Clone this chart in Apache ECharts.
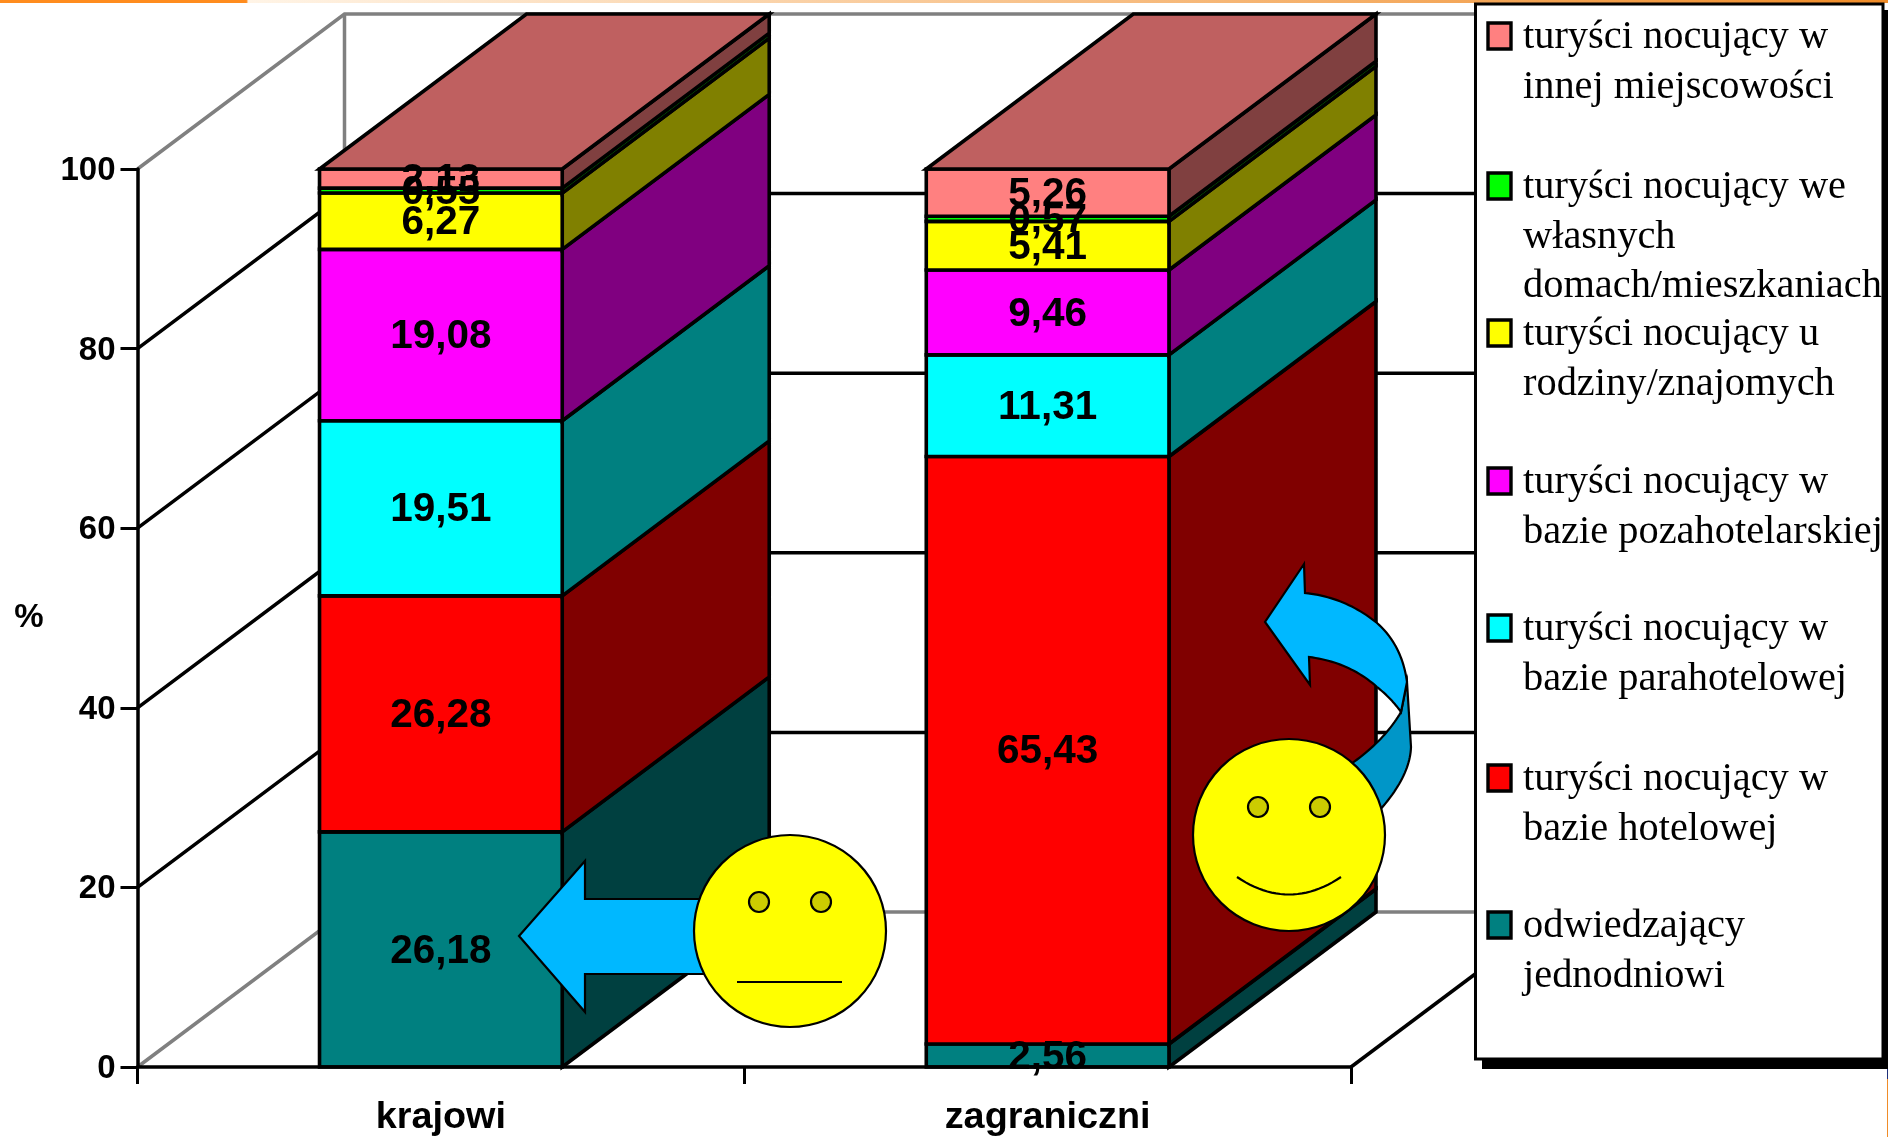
<!DOCTYPE html>
<html><head><meta charset="utf-8">
<style>html,body{margin:0;padding:0;background:#fff}#c{width:1888px;height:1137px}</style>
<script src="https://cdn.jsdelivr.net/npm/echarts@6/dist/echarts.min.js"></script>
</head><body><div id="c"></div>
<script>
const categories = ['krajowi', 'zagraniczni'];
const gridValues = [0, 20, 40, 60, 80, 100];
const odwiedzajacy = [26.18, 2.56];
const hotelowa = [26.28, 65.43];
const parahotelowa = [19.51, 11.31];
const pozahotelarska = [19.08, 9.46];
const rodzina = [6.27, 5.41];
const wlasne = [0.55, 0.57];
const innaMiejscowosc = [2.13, 5.26];
const layers = [odwiedzajacy, hotelowa, parahotelowa, pozahotelarska, rodzina, wlasne, innaMiejscowosc];
const frontColors = ['#008080', '#FF0000', '#00FFFF', '#FF00FF', '#FFFF00', '#00FF00', '#FF8080'];
const sideColors = ['#004040', '#800000', '#008080', '#800080', '#808000', '#008000', '#804040'];
const topColor = '#BF6060';
const legendLines = [
  ['turyści nocujący w', 'innej miejscowości'],
  ['turyści nocujący we', 'własnych', 'domach/mieszkaniach'],
  ['turyści nocujący u', 'rodziny/znajomych'],
  ['turyści nocujący w', 'bazie pozahotelarskiej'],
  ['turyści nocujący w', 'bazie parahotelowej'],
  ['turyści nocujący w', 'bazie hotelowej'],
  ['odwiedzający', 'jednodniowi']
];
const legendColors = ['#FF8080', '#00FF00', '#FFFF00', '#FF00FF', '#00FFFF', '#FF0000', '#008080'];
const legendBaselines = [48, 198, 345, 493, 640, 790, 937];

const DX = 207, DY = 155, BAR = 0.4, STROKE = 3.6;
const fmt = v => v.toFixed(2).replace('.', ',');

function stackData(li) {
  return categories.map((c, i) => {
    let base = 0;
    for (let k = 0; k < li; k++) base += layers[k][i];
    return [i, base, base + layers[li][i], layers[li][i]];
  });
}
function barGeom(api) {
  const bw = api.size([1, 0])[0] * BAR;
  const b = api.coord([api.value(0), api.value(1)]);
  const t = api.coord([api.value(0), api.value(2)]);
  return { l: b[0] - bw / 2, r: b[0] + bw / 2, by: b[1], ty: t[1], cx: b[0] };
}
const edge = { stroke: '#000', lineWidth: STROKE, lineJoin: 'miter' };
const layerSeries = layers.map((vals, li) => ({
  type: 'custom', name: legendLines[6 - li].join(' '), z: 2, data: stackData(li),
  encode: { x: 0, y: [1, 2] },
  renderItem(params, api) {
    const g = barGeom(api), kids = [
      { type: 'polygon', shape: { points: [[g.r, g.by], [g.r + DX, g.by - DY], [g.r + DX, g.ty - DY], [g.r, g.ty]] },
        style: Object.assign({ fill: sideColors[li] }, edge) },
      { type: 'rect', shape: { x: g.l, y: g.ty, width: g.r - g.l, height: g.by - g.ty },
        style: Object.assign({ fill: frontColors[li] }, edge) }
    ];
    if (li === layers.length - 1) kids.push({ type: 'polygon',
      shape: { points: [[g.l, g.ty], [g.l + DX, g.ty - DY], [g.r + DX, g.ty - DY], [g.r, g.ty]] },
      style: Object.assign({ fill: topColor }, edge) });
    return { type: 'group', children: kids };
  }
}));
const labelSeries = layers.map((vals, li) => ({
  type: 'custom', z: 3, silent: true, data: stackData(li), encode: { x: 0, y: [1, 2] },
  renderItem(params, api) {
    const g = barGeom(api);
    return { type: 'text', style: { x: g.cx, y: (g.by + g.ty) / 2 + 2, text: fmt(api.value(3)),
      fill: '#000', font: 'bold 40.5px "Liberation Sans"', align: 'center', verticalAlign: 'middle' } };
  }
}));
const wallSeries = {
  type: 'custom', z: 1, silent: true, data: gridValues.map(v => [0, v]), encode: { y: 1 },
  renderItem(params, api) {
    const cs = params.coordSys, v = api.value(1), y = api.coord([0, v])[1];
    const edgeVal = v === gridValues[0] || v === gridValues[gridValues.length - 1];
    const x0 = cs.x, x1 = cs.x + cs.width;
    const st = { stroke: edgeVal ? '#808080' : '#000', lineWidth: 3.5, fill: null };
    const kids = [{ type: 'polyline', shape: { points: [[x0, y], [x0 + DX, y - DY], [x1 + DX, y - DY]] }, style: st }];
    if (v === gridValues[0]) {
      kids.push({ type: 'polyline', shape: { points: [[x1, y], [x1 + DX, y - DY]] }, style: { stroke: '#000', lineWidth: 3.5, fill: null } });
      kids.push({ type: 'polyline', shape: { points: [[x0 + DX, y - DY], [x0 + DX, cs.y - DY]] }, style: { stroke: '#808080', lineWidth: 3.5, fill: null } });
    }
    return { type: 'group', children: kids };
  }
};

/* decorations */
function quad(p0, c, p1) {
  const out = [];
  for (let i = 0; i <= 24; i++) { const t = i / 24, u = 1 - t;
    out.push([u*u*p0[0] + 2*u*t*c[0] + t*t*p1[0], u*u*p0[1] + 2*u*t*c[1] + t*t*p1[1]]); }
  return out;
}
const line2 = { stroke: '#000', lineWidth: 2.2 };
function face(cx, cy, eyeY, eyeDx, mouth) {
  return [
    { type: 'circle', z: 12, shape: { cx, cy, r: 96 }, style: Object.assign({ fill: '#FFFF00' }, line2) },
    { type: 'circle', z: 13, shape: { cx: cx - eyeDx, cy: eyeY, r: 10 }, style: Object.assign({ fill: '#CCCC00' }, line2) },
    { type: 'circle', z: 13, shape: { cx: cx + eyeDx, cy: eyeY, r: 10 }, style: Object.assign({ fill: '#CCCC00' }, line2) },
    { type: 'polyline', z: 13, shape: { points: mouth }, style: { stroke: '#000', lineWidth: 2.2, fill: null } }
  ];
}
const decor = [
  { type: 'polygon', z: 11, shape: { points: [[519,936],[585,861],[585,899],[712,899],[712,974],[585,974],[585,1012]] },
    style: Object.assign({ fill: '#00B8FF' }, line2) },
  { type: 'polygon', z: 11, shape: { points: [[1407,682],[1411,747]].concat(quad([1411,747],[1410,777],[1378,812]), quad([1345,768],[1383,743],[1401,712])) },
    style: Object.assign({ fill: '#0096C8' }, line2) },
  { type: 'polygon', z: 11, shape: { points: [[1304,564],[1265,622],[1310,685]].concat(
      quad([1309,657],[1349,662],[1377,687]), quad([1377,687],[1391,698],[1401,712]),
      quad([1407,682],[1402,645],[1377,623]), quad([1377,623],[1345,597],[1305,593])) },
    style: Object.assign({ fill: '#00B8FF' }, line2) }
].concat(
  face(790, 931, 902, 31, [[737,982],[842,982]]),
  face(1289, 835, 807, 31, quad([1237,877],[1289,912],[1341,877]))
);

/* page furniture + legend */
const furniture = [
  { type: 'rect', z: 9, shape: { x: 0, y: 0, width: 1888, height: 3 }, style: {
    fill: new echarts.graphic.LinearGradient(0, 0, 1, 0, [
      { offset: 0, color: '#FF8C1E' }, { offset: 0.1305, color: '#FF8C1E' }, { offset: 0.1315, color: '#FFF4E6' }, { offset: 1, color: '#F08C28' }]) } },
  { type: 'rect', z: 9, shape: { x: 1482, y: 10, width: 406, height: 1059 }, style: { fill: '#000' } },
  { type: 'rect', z: 9, shape: { x: 1887, y: 1069, width: 1, height: 10 }, style: { fill: '#1F2F78' } },
  { type: 'rect', z: 9, shape: { x: 1887, y: 1079, width: 1, height: 58 }, style: { fill: '#F08C28' } },
  { type: 'rect', z: 10, shape: { x: 1475.5, y: 4, width: 407.5, height: 1055 }, style: { fill: '#fff', stroke: '#000', lineWidth: 3 } }
];
legendLines.forEach((lines, i) => {
  const bl = legendBaselines[i];
  furniture.push({ type: 'rect', z: 11, shape: { x: 1488, y: bl - 25, width: 23, height: 26 },
    style: { fill: legendColors[i], stroke: '#000', lineWidth: 3.4 } });
  furniture.push({ type: 'text', z: 11, style: { x: 1523, y: bl - 35, text: lines.join('\n'),
    font: '40.4px "Liberation Serif"', lineHeight: 49.5, fill: '#000', align: 'left', verticalAlign: 'top' } });
});

const chart = echarts.init(document.getElementById('c'), null, { renderer: 'canvas' });
chart.setOption({
  animation: false,
  backgroundColor: '#fff',
  grid: { left: 137.5, right: 537, top: 169, bottom: 70 },
  xAxis: { type: 'category', data: categories, z: 4,
    axisLine: { lineStyle: { color: '#000', width: 3.5 } },
    axisTick: { show: true, length: 17, alignWithLabel: false, lineStyle: { color: '#000', width: 3 } },
    axisLabel: { color: '#000', margin: 32, fontFamily: 'Liberation Sans', fontWeight: 'bold', fontSize: 37.8 } },
  yAxis: { type: 'value', min: 0, max: 100, interval: 20, z: 4,
    name: '%', nameLocation: 'middle', nameGap: 94, nameRotate: 0,
    nameTextStyle: { color: '#000', fontFamily: 'Liberation Sans', fontWeight: 'bold', fontSize: 33 },
    splitLine: { show: false },
    axisLine: { show: true, lineStyle: { color: '#000', width: 3.5 } },
    axisTick: { show: true, length: 17, lineStyle: { color: '#000', width: 3 } },
    axisLabel: { color: '#000', margin: 22, verticalAlign: 'top', lineHeight: 4, fontFamily: 'Liberation Sans', fontWeight: 'bold', fontSize: 33 } },
  series: [wallSeries].concat(layerSeries, labelSeries),
  graphic: { elements: furniture.concat(decor) }
});
</script></body></html>
